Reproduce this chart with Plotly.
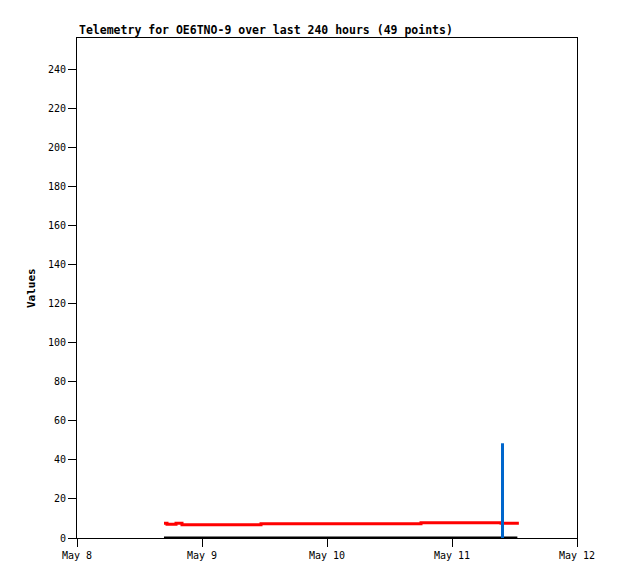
import pandas as pd
import plotly.graph_objects as go

title_text = "Telemetry for OE6TNO-9 over last 240 hours (49 points)"
y_title = "Values"

base = pd.Timestamp("2024-05-08 00:00")

# hours after May 8 00:00 for each telemetry point (49 points)
hours = [16.70,
         17.28, 18.10,
         19.01,
         20.16, 21.6, 23.0, 24.5, 25.9, 27.3, 28.8, 30.2, 31.6, 33.1, 34.5,
         35.33, 36.8, 38.3, 39.8, 41.3, 42.8, 44.3, 45.8, 47.3, 48.8, 50.3,
         51.8, 53.3, 54.8, 56.3, 57.8, 59.3, 60.8, 62.3, 63.8, 65.0,
         66.05, 67.5, 69.0, 70.5, 72.0, 73.5, 75.0, 76.5, 78.0, 79.5, 80.6,
         81.41,
         84.55]
red_values = ([7.5] + [7.0] * 2 + [7.5] + [6.8] * 11 + [7.25] * 21
              + [7.8] * 11 + [7.6] + [6.8])
black_values = [0.0] * 49

spike_hour = [81.7]
spike_value = [48.5]

tick_labels = ["May 8", "May 9", "May 10", "May 11", "May 12"]
tick_days = [0, 1, 2, 3, 4]

times = [base + pd.Timedelta(hours=h) for h in hours]
spike_times = [base + pd.Timedelta(hours=h) for h in spike_hour]
tick_vals = [base + pd.Timedelta(days=d) for d in tick_days]

fig = go.Figure()
fig.add_trace(go.Scatter(x=times, y=red_values, mode="lines", line=dict(color="#ff0000", width=3, shape="hv"),
                         showlegend=False, hoverinfo="x+y"))
fig.add_trace(go.Scatter(x=times, y=black_values, mode="lines", line=dict(color="#000000", width=3, shape="hv"),
                         showlegend=False, hoverinfo="x+y"))
fig.add_trace(go.Scatter(x=[spike_times[0], spike_times[0]], y=[0, spike_value[0]], mode="lines",
                         line=dict(color="#0066cc", width=3), showlegend=False, hoverinfo="x+y"))

font_family = "DejaVu Sans Mono"
fig.update_layout(
    width=610, height=571,
    margin=dict(l=69, r=41, t=30, b=41),
    paper_bgcolor="white", plot_bgcolor="white",
    font=dict(family=font_family, size=10, color="black"),
    showlegend=False,
)
fig.update_xaxes(
    range=[tick_vals[0], tick_vals[-1]],
    tickvals=tick_vals, ticktext=tick_labels,
    showgrid=False, zeroline=False,
    showline=True, linecolor="black", linewidth=1, mirror=True,
    ticks="outside", ticklen=8, tickcolor="black", tickwidth=1,
    tickfont=dict(family=font_family, size=10, color="black"),
)
fig.update_yaxes(
    range=[0, 256],
    tickvals=list(range(0, 241, 20)),
    showgrid=False, zeroline=False,
    showline=True, linecolor="black", linewidth=1, mirror=True,
    ticks="outside", ticklen=8, tickcolor="black", tickwidth=1,
    tickfont=dict(family=font_family, size=10, color="black"),
)
fig.add_annotation(text="<b>" + title_text + "</b>", xref="paper", yref="paper",
                   x=0, y=1, xanchor="left", yanchor="bottom", yshift=-1, showarrow=False,
                   font=dict(family=font_family, size=11.5, color="black"))
fig.add_annotation(text="<b>" + y_title + "</b>", xref="paper", yref="paper",
                   x=0, y=0.5, xanchor="center", yanchor="middle", xshift=-46, textangle=-90,
                   showarrow=False, font=dict(family=font_family, size=11, color="black"))

fig.write_html("out.html")
